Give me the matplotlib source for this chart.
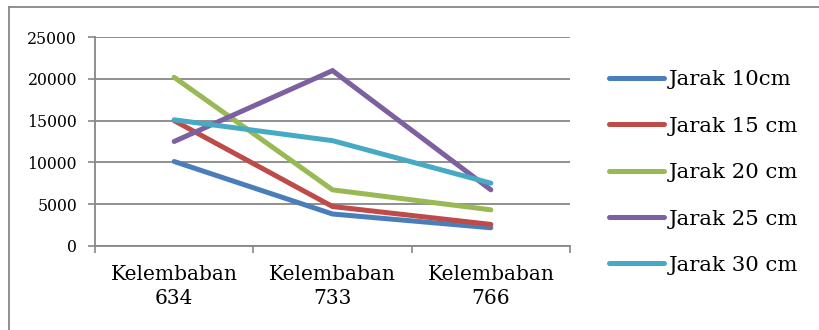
import matplotlib.pyplot as plt
from matplotlib.lines import Line2D

# kelembaban tanah vs pembacaan sensor untuk tiap jarak
kategori = ["Kelembaban\n634", "Kelembaban\n733", "Kelembaban\n766"]
jarak_10 = [10100, 3800, 2150]
jarak_15 = [15000, 4700, 2550]
jarak_20 = [20200, 6700, 4300]
jarak_25 = [12500, 21000, 6700]
jarak_30 = [15100, 12600, 7500]

seri = [
    ("Jarak 10cm", jarak_10, "#4A7EBB"),
    ("Jarak 15 cm", jarak_15, "#BE4B48"),
    ("Jarak 20 cm", jarak_20, "#98B954"),
    ("Jarak 25 cm", jarak_25, "#7D60A0"),
    ("Jarak 30 cm", jarak_30, "#46AAC5"),
]

plt.rcParams["font.family"] = ["DejaVu Serif"]
grey = "#878787"

fig = plt.figure(figsize=(8.19, 3.30), dpi=100)
ax = fig.add_axes([0.116, 0.2555, 0.58, 0.6315])

x = range(len(kategori))
for label, vals, color in seri:
    ax.plot(x, vals, color=color, lw=3.6, label=label, solid_capstyle="round",
            solid_joinstyle="miter")

ax.set_xlim(-0.5, 2.5)
ax.set_ylim(0, 25000)
ax.set_yticks(range(0, 25001, 5000))
ax.tick_params(axis="y", labelsize=11.3, length=5, width=1.2, color=grey, pad=8)
ax.grid(axis="y", color=grey, lw=1.3)
ax.set_axisbelow(True)

ax.set_xticks(list(x))
ax.set_xticklabels(kategori, fontsize=14.5, linespacing=1.3)
ax.tick_params(axis="x", length=0, pad=14)
ax.set_xticks([-0.5, 0.5, 1.5, 2.5], minor=True)
ax.tick_params(axis="x", which="minor", length=5, width=1.2, color=grey)

for s in ["top", "right"]:
    ax.spines[s].set_visible(False)
for s in ["left", "bottom"]:
    ax.spines[s].set_color(grey)
    ax.spines[s].set_linewidth(1.3)

fig.legend(loc="center left", bbox_to_anchor=(0.743, 0.477), frameon=False,
           fontsize=15.3, handlelength=2.6, handletextpad=0.25, labelspacing=1.29,
           borderpad=0, borderaxespad=0)

# bingkai luar
fig.add_artist(Line2D([0.011, 1.0], [0.979, 0.979], color=grey, lw=1.3))
fig.add_artist(Line2D([0.011, 0.011], [0.0, 0.979], color=grey, lw=1.3))

fig.savefig("out.png", dpi=100)
